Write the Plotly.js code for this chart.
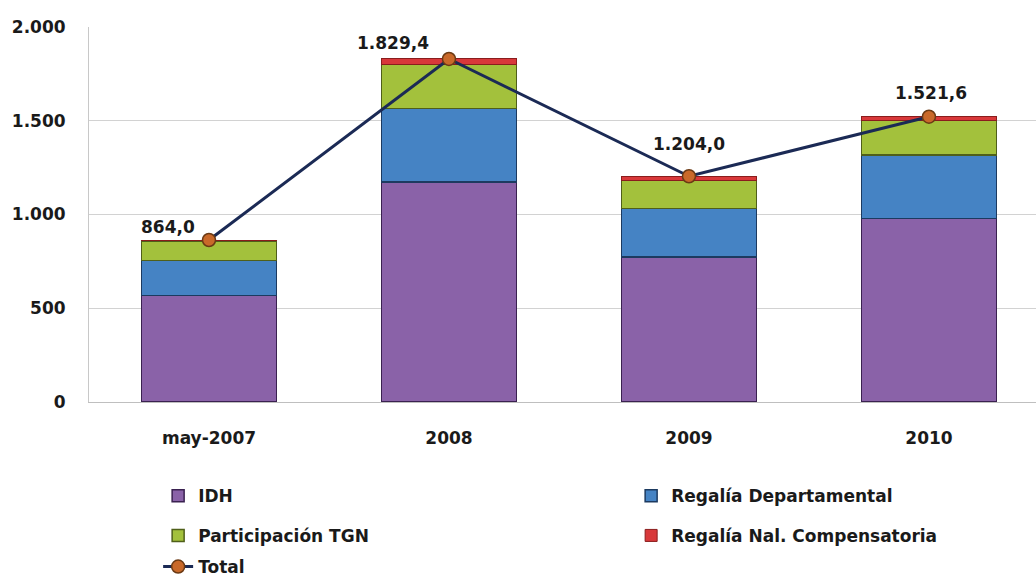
<!DOCTYPE html>
<html><head><meta charset="utf-8">
<script src="https://cdn.plot.ly/plotly-3.0.1.min.js"></script>
<style>html,body{margin:0;padding:0;background:#fff}#chart{width:1036px;height:577px}</style>
</head><body><div id="chart"></div>
<script>
// ---- data ----
const categories = ['may-2007', '2008', '2009', '2010'];
const idh = [569, 1174, 774, 979];
const regaliaDep = [187, 392, 258, 338];
const participacionTGN = [103, 235, 151, 187];
const regaliaNal = [5, 28.4, 21, 17.6];
const total = [864.0, 1829.4, 1204.0, 1521.6];
const yTicks = [0, 500, 1000, 1500, 2000];

// ---- label placement (style only) ----
const labelDx = [-41, -56, 0, 2];
const labelDy = [13, 16, 32, 24];

const FONT = 'DejaVu Sans, Verdana, sans-serif';
const legendFont = {family: FONT, size: 17, color: '#1a1a1a', weight: 'bold'};

function fmt(v) {
  const parts = v.toFixed(1).split('.');
  const intPart = parts[0].replace(/\B(?=(\d{3})+(?!\d))/g, '.');
  return intPart + ',' + parts[1];
}

const traces = [
  {type: 'bar', name: 'IDH', x: categories, y: idh, legend: 'legend',
   marker: {color: '#8a62a8', line: {color: '#3a2150', width: 1.5}}, hoverinfo: 'y+name'},
  {type: 'bar', name: 'Regalía Departamental', x: categories, y: regaliaDep, legend: 'legend',
   marker: {color: '#4583c4', line: {color: '#1c3a60', width: 1.5}}, hoverinfo: 'y+name'},
  {type: 'bar', name: 'Participación TGN', x: categories, y: participacionTGN, legend: 'legend2',
   marker: {color: '#a3c13c', line: {color: '#4f5f1a', width: 1.5}}, hoverinfo: 'y+name'},
  {type: 'bar', name: 'Regalía Nal. Compensatoria', x: categories, y: regaliaNal, legend: 'legend2',
   marker: {color: '#d8383a', line: {color: '#8a1d1d', width: 1}}, hoverinfo: 'y+name'},
  {type: 'scatter', mode: 'lines+markers', name: 'Total', x: categories, y: total, legend: 'legend3',
   line: {color: '#1b2a55', width: 3},
   marker: {size: 13, color: '#c9692a', line: {color: '#6b3a14', width: 1.5}}}
];

const annotations = categories.map((c, i) => ({
  x: i, y: total[i], xref: 'x', yref: 'y', text: fmt(total[i]), showarrow: false,
  xanchor: 'center', yanchor: 'middle', xshift: labelDx[i], yshift: labelDy[i],
  font: {family: FONT, size: 17, color: '#1a1a1a', weight: 'bold'}
}));

function legendAt(y) {
  return {orientation: 'h', x: 0.073, xanchor: 'left', y: y, yanchor: 'middle',
    entrywidth: 428, entrywidthmode: 'pixels', font: legendFont,
    bgcolor: 'rgba(0,0,0,0)', borderwidth: 0, traceorder: 'normal'};
}

const layout = {
  width: 1036, height: 577,
  margin: {l: 89, r: 0, t: 27, b: 175, autoexpand: false},
  paper_bgcolor: '#ffffff', plot_bgcolor: '#ffffff',
  separators: ',.',
  barmode: 'stack', bargap: 0.4375,
  showlegend: true,
  xaxis: {type: 'category', range: [-0.5, 3.446], showgrid: false, zeroline: false,
    showline: true, linecolor: '#bfbfbf', linewidth: 1, ticks: '',
    ticklabelstandoff: 21,
    tickfont: {family: FONT, size: 17, color: '#1a1a1a', weight: 'bold'}},
  yaxis: {range: [0, 2000], tickvals: yTicks, tickformat: ',d', showgrid: true,
    gridcolor: '#d2d2d2', gridwidth: 1, zeroline: false, showline: true,
    linecolor: '#c8c8c8', linewidth: 1, ticks: '', ticklabelstandoff: 19,
    tickfont: {family: FONT, size: 17, color: '#1a1a1a', weight: 'bold'}},
  legend: legendAt(-0.251),
  legend2: legendAt(-0.357),
  legend3: legendAt(-0.44),
  annotations: annotations
};

Plotly.newPlot('chart', traces, layout, {displayModeBar: false, staticPlot: true});
</script>
</body></html>
